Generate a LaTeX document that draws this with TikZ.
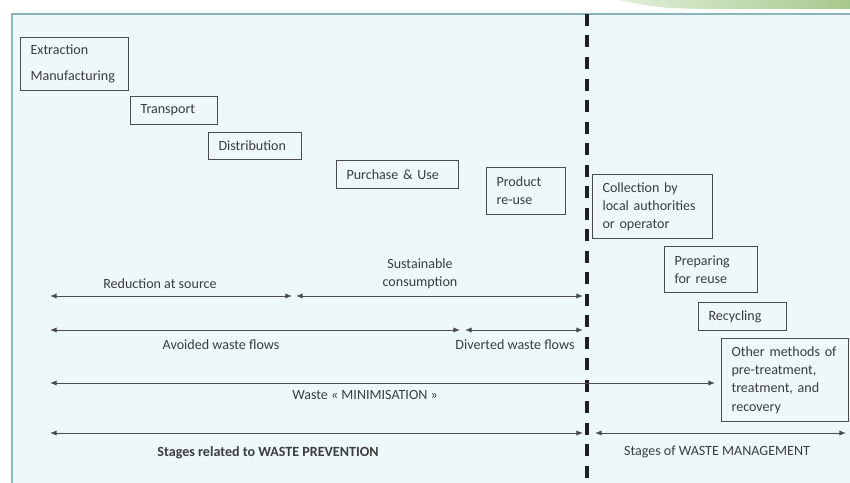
\documentclass[tikz,border=0pt]{standalone}
\usepackage{fontspec}
\setmainfont{Carlito}
\usetikzlibrary{shapes,arrows.meta,positioning}
\definecolor{panelfill}{RGB}{236,248,250}
\definecolor{panelrule}{RGB}{141,179,189}
\definecolor{boxline}{RGB}{75,75,75}
\definecolor{inktext}{RGB}{60,60,60}
\definecolor{leafgreen}{RGB}{166,200,140}
\definecolor{leaflight}{RGB}{225,240,218}

\tikzset{
  stagebox/.style={draw=boxline, line width=0.9pt, anchor=north west, align=left,
    inner xsep=0.3cm, inner ysep=2pt, text=inktext},
  spanlabel/.style={text=inktext, align=center},
  span/.style={draw=black!70, line width=0.8pt,
    {Latex[length=2mm,width=1.6mm]}-{Latex[length=2mm,width=1.6mm]}},
  divider/.style={line width=2.7pt, color=black!88, dash pattern=on 3.6mm off 2.85mm},
}

\begin{document}
\begin{tikzpicture}[x=0.03cm, y=-0.03cm, font=\fontsize{12}{15.5}\selectfont]
    \useasboundingbox (0,0) rectangle (850,483);
    % slide backdrop
    \fill[white] (0,0) rectangle (850,483);
    \shade[left color=leaflight, right color=leafgreen] (618,0) .. controls (660,8) .. (705,9) -- (850,9) -- (850,0) -- cycle;
    \fill[panelfill] (12,14) rectangle (850,483);
    \draw[panelrule, line width=1.2pt] (850,14) -- (12,14) -- (12,483);
    \draw[divider] (587,14) -- (587,483);

    % life-cycle stages
    \node[stagebox, text width=2.64cm, minimum height=1.59cm] (extract) at (20,37) {Extraction\\[7pt]Manufacturing};
    \node[stagebox, text width=2.01cm, minimum height=0.84cm] (transport) at (130,96) {Transport};
    \node[stagebox, text width=2.19cm, minimum height=0.81cm] (distrib) at (208,132) {Distribution};
    \node[stagebox, text width=3.06cm, minimum height=0.84cm] (purchase) at (336,160) {Purchase \& Use};
    \node[stagebox, text width=1.77cm, minimum height=1.41cm] (reuse) at (486,167) {Product\\re-use};
    \node[stagebox, text width=3.00cm, minimum height=1.92cm] (collect) at (592,174) {Collection by\\local authorities\\or operator};
    \node[stagebox, text width=2.19cm, minimum height=1.38cm] (prepare) at (664,246) {Preparing\\for reuse};
    \node[stagebox, text width=2.04cm, minimum height=0.84cm] (recycle) at (698,302) {Recycling};
    \node[stagebox, text width=3.21cm, minimum height=2.49cm] (other) at (721,338) {Other methods of\\pre-treatment,\\treatment, and\\recovery};

    % span ends
    \coordinate (src start) at (50,296);
    \coordinate (src end) at (292,296);
    \coordinate (cons start) at (296,296);
    \coordinate (cons end) at (583,296);
    \coordinate (avoid start) at (50,330);
    \coordinate (avoid end) at (460,330);
    \coordinate (divert start) at (465,330);
    \coordinate (divert end) at (583,330);
    \coordinate (minim start) at (50,383);
    \coordinate (minim end) at (715,383);
    \coordinate (prev start) at (50,433);
    \coordinate (prev end) at (583,433);
    \coordinate (mgmt start) at (595,433);
    \coordinate (mgmt end) at (846,433);
    \foreach \seg in {src,cons,avoid,divert,minim,prev,mgmt}
        \draw[span] (\seg\space start) -- (\seg\space end);

    % span labels
    \node[spanlabel] (src lbl) at (160,284) {Reduction at source};
    \node[spanlabel] (cons lbl) at (420,274) {Sustainable\\consumption};
    \node[spanlabel] (avoid lbl) at (221,345) {Avoided waste flows};
    \node[spanlabel] (divert lbl) at (515,345) {Diverted waste flows};
    \node[spanlabel] (minim lbl) at (365,395) {Waste « MINIMISATION »};
    \node[spanlabel] (prev lbl) at (268,453) {\textbf{Stages related to WASTE PREVENTION}};
    \node[spanlabel] (mgmt lbl) at (717,452) {Stages of WASTE MANAGEMENT};
\end{tikzpicture}
\end{document}
